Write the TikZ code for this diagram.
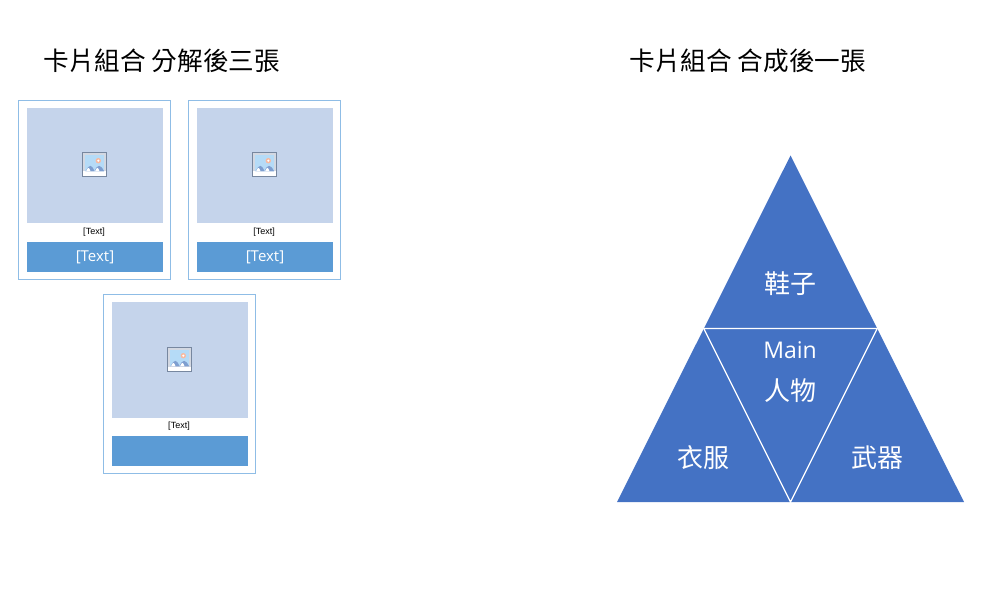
\documentclass[tikz,border=0pt]{standalone}
\usepackage{fontspec}
\setmainfont{Open Sans}
\newfontfamily\cjkfont{Noto Sans CJK TC}
\newfontfamily\smallfont{Liberation Sans}
\definecolor{cardline}{HTML}{8FBDE6}
\definecolor{imgfill}{HTML}{C5D4EB}
\definecolor{barfill}{HTML}{5B9BD5}
\definecolor{triblue}{HTML}{4472C4}
\definecolor{iconedge}{HTML}{77879F}
\definecolor{iconframe}{HTML}{D3D8E2}
\definecolor{iconsky}{HTML}{B5DBF7}
\definecolor{iconhill}{HTML}{7F9FD0}
\definecolor{iconsun}{HTML}{F7B9A0}
\tikzset{
  x=1pt,y=-1pt,
  titletext/.style={font=\cjkfont\fontsize{25.6}{30}\selectfont,text=black,inner sep=0pt,anchor=west},
  tritext/.style={font=\cjkfont\fontsize{26}{30}\selectfont,text=white,inner sep=0pt},
  mainword/.style={font=\fontsize{23}{28}\selectfont,text=white,inner sep=0pt},
  captiontext/.style={font=\smallfont\fontsize{9}{11}\selectfont,text=black,inner sep=0pt},
  bartext/.style={font=\fontsize{15}{20}\selectfont,text=white,inner sep=0pt},
  picicon/.pic={
    \fill[iconedge] (-12.5,-12.5) rectangle (12.5,12.5);
    \fill[iconframe] (-11.5,-11.5) rectangle (11.5,11.5);
    \fill[white] (-11.5,7) rectangle (11.5,11.5);
    \fill[iconsky] (-9.2,-9.2) rectangle (9.8,6.8);
    \fill[iconsun] (3.8,-3.8) circle (2.7);
    \fill[white] (3.8,-3.8) circle (1.2);
    \fill[iconhill] (-9,6.8) .. controls (-5,-0.5) and (-3,-0.5) .. (0,6.8) -- cycle;
    \fill[iconhill] (0,6.8) .. controls (3,-0.5) and (6,-0.5) .. (9.6,6.8) -- cycle;
    \fill[white] (-8.5,6.8) .. controls (-6.5,2.5) and (-5.5,2) .. (-4,6.8) -- cycle;
    \fill[white] (0.5,6.8) .. controls (2.5,2.5) and (3.5,2) .. (5,6.8) -- cycle;
  },
}
\newcommand{\mycard}[5]{% name, x-left, y-top, image height, bar text
  \node[draw=cardline,line width=1pt,outer sep=0pt,minimum width=152pt,minimum height=179pt,inner sep=0pt,anchor=north west] (#1) at (#2+0.5,#3+0.5) {};
  \node[fill=imgfill,minimum width=136pt,minimum height=#4 pt,inner sep=0pt,outer sep=0pt,anchor=north west] (#1img) at (#2+9,#3+8) {};
  \pic at (#2+76.5,#3+#4-50.5) {picicon};
  \node[captiontext] (#1cap) at (#2+76,#3+132.5) {[Text]};
  \node[fill=barfill,minimum width=136pt,minimum height=30pt,inner sep=0pt,outer sep=0pt,anchor=north west,bartext] (#1bar) at (#2+9,#3+142) {#5};
}
\begin{document}
\begin{tikzpicture}
\useasboundingbox (0,0) rectangle (998,596);
\node[titletext] (t1) at (43.5,60.5) {卡片組合 分解後三張};
\node[titletext] (t2) at (629.5,60.5) {卡片組合 合成後一張};
\mycard{a}{18}{100}{115}{[Text]}
\mycard{b}{188}{100}{115}{[Text]}
\mycard{c}{103}{294}{116}{}
\coordinate (apex) at (790.5,155.5);
\coordinate (ml) at (703.75,328.5);
\coordinate (mr) at (877.25,328.5);
\coordinate (bl) at (617,502);
\coordinate (bm) at (790.5,502);
\coordinate (br) at (964,502);
\fill[triblue] (apex) -- (br) -- (bl) -- cycle;
\draw[white,line width=1.2pt] (ml) -- (mr) -- (bm) -- cycle;
\node[tritext] (shoe) at (790.5,283.5) {鞋子};
\node[mainword] (main) at (790,350) {Main};
\node[tritext] (person) at (790.5,390.5) {人物};
\node[tritext] (cloth) at (703,457.5) {衣服};
\node[tritext] (weapon) at (877.5,457.5) {武器};
\end{tikzpicture}
\end{document}
